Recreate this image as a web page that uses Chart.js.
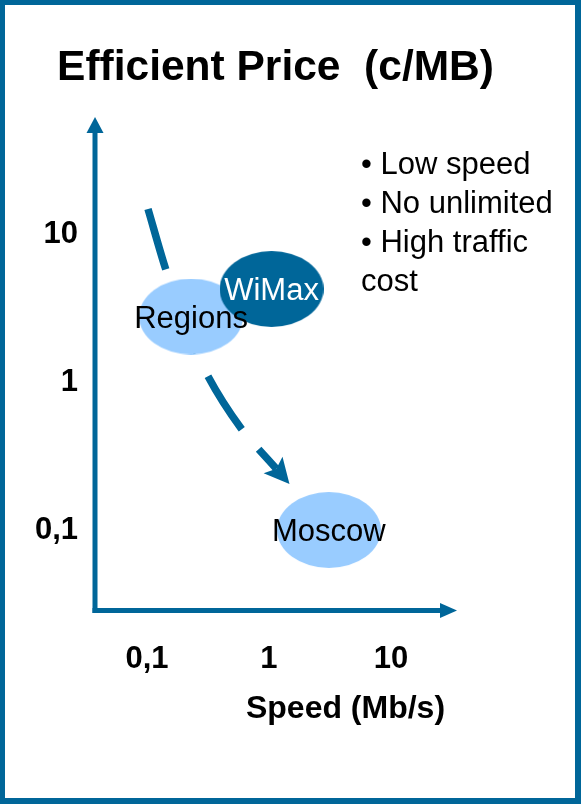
<!DOCTYPE html>
<html>
<head>
<meta charset="utf-8">
<title>Efficient Price (c/MB)</title>
<script src="https://cdn.jsdelivr.net/npm/chart.js@4/dist/chart.umd.min.js"></script>
<style>
  html, body { margin: 0; padding: 0; background: #ffffff; }
  #chart { position: absolute; left: 0; top: 0; }
  #frame {
    position: absolute; left: 0; top: 0;
    width: 581px; height: 804px; box-sizing: border-box;
    border-style: solid; border-color: #006699;
    border-width: 5px 6px 6px 5px;
    pointer-events: none;
  }
</style>
</head>
<body>
<canvas id="chart" width="581" height="804"></canvas>
<div id="frame"></div>
<script>
// Market segments: connection speed (Mb/s) vs. efficient price (cents per MB)
const categories = ['Regions', 'WiMax', 'Moscow'];
const speedMbps  = [0.23, 1.05, 3.1];
const priceCents = [2.8, 4.3, 0.1];

// Dashed trend arrow from high price / low speed towards Moscow
const trendSpeed = [0.102, 0.143, 0.205, 0.315, 0.59, 1.15];
const trendPrice = [15.0, 5.8, 2.53, 1.11, 0.49, 0.26];

// Axis ticks and ranges
const xTickValues = [0.1, 1, 10];
const xTickLabels = ['0,1', '1', '10'];
const yTickValues = [0.1, 1, 10];
const yTickLabels = ['0,1', '1', '10'];
const xRange = [0.0375, 34.8];
const yRange = [0.0285, 63];

// Texts
const titleText = 'Efficient Price  (c/MB)';
const xTitleText = 'Speed (Mb/s)';
const noteLines = ['\u2022 Low speed', '\u2022 No unlimited', '\u2022 High traffic', 'cost'];

// Styles
const FONT = "'Liberation Sans', Arial, Helvetica, sans-serif";
const DARK_BLUE = '#006699';
const LIGHT_BLUE = '#99ccff';
const segmentFill = [LIGHT_BLUE, DARK_BLUE, LIGHT_BLUE];
const segmentText = ['#000000', '#ffffff', '#000000'];
const ELLIPSE_W = 104, ELLIPSE_H = 76;

function ellipseImage(color) {
  const c = document.createElement('canvas');
  c.width = ELLIPSE_W; c.height = ELLIPSE_H;
  const g = c.getContext('2d');
  g.fillStyle = color;
  g.beginPath();
  g.ellipse(ELLIPSE_W / 2, ELLIPSE_H / 2, ELLIPSE_W / 2, ELLIPSE_H / 2, 0, 0, Math.PI * 2);
  g.fill();
  return c;
}

function arrowHead(ctx, tipX, tipY, ux, uy, len, half, notch, color) {
  const px = -uy, py = ux;
  const bx = tipX - ux * len, by = tipY - uy * len;
  ctx.save();
  ctx.fillStyle = color;
  ctx.beginPath();
  ctx.moveTo(tipX, tipY);
  ctx.lineTo(bx + px * half, by + py * half);
  ctx.lineTo(bx + ux * notch, by + uy * notch);
  ctx.lineTo(bx - px * half, by - py * half);
  ctx.closePath();
  ctx.fill();
  ctx.restore();
}

const decor = {
  id: 'decor',
  beforeDatasetsDraw(chart) {
    const { ctx, chartArea: a } = chart;
    ctx.save();
    ctx.strokeStyle = DARK_BLUE;
    ctx.lineWidth = 5;
    ctx.lineCap = 'butt';
    // vertical axis with arrow
    ctx.beginPath();
    ctx.moveTo(a.left, a.bottom + 2.5);
    ctx.lineTo(a.left, a.top + 14);
    ctx.stroke();
    arrowHead(ctx, a.left, a.top, 0, -1, 16, 8.5, 0, DARK_BLUE);
    // horizontal axis with arrow
    ctx.beginPath();
    ctx.moveTo(a.left - 2.5, a.bottom);
    ctx.lineTo(a.right - 14, a.bottom);
    ctx.stroke();
    arrowHead(ctx, a.right, a.bottom, 1, 0, 17, 7.5, 0, DARK_BLUE);
    ctx.restore();
  },
  afterDatasetDraw(chart, args) {
    if (args.index !== 0) return;
    const pts = chart.getDatasetMeta(0).data;
    const p = pts[pts.length - 1];
    const q = pts[pts.length - 2];
    let dx = p.x - (p.cp1x !== undefined ? p.cp1x : q.x);
    let dy = p.y - (p.cp1y !== undefined ? p.cp1y : q.y);
    if (Math.hypot(dx, dy) < 1) { dx = p.x - q.x; dy = p.y - q.y; }
    const d = Math.hypot(dx, dy);
    const ux = dx / d, uy = dy / d;
    arrowHead(chart.ctx, p.x + ux * 20, p.y + uy * 20, ux, uy, 25, 12.5, 5, DARK_BLUE);
  },
  afterDatasetsDraw(chart) {
    const { ctx } = chart;
    ctx.save();
    // segment names inside the ellipses
    const pts = chart.getDatasetMeta(1).data;
    ctx.font = `31px ${FONT}`;
    ctx.textAlign = 'center';
    ctx.textBaseline = 'alphabetic';
    categories.forEach((name, i) => {
      ctx.fillStyle = segmentText[i];
      ctx.fillText(name, pts[i].x, pts[i].y + 11);
    });
    // chart title
    ctx.fillStyle = '#000000';
    ctx.font = `bold 42.5px ${FONT}`;
    ctx.fillText(titleText, 275.5, 80);
    // horizontal axis title
    ctx.font = `bold 32px ${FONT}`;
    ctx.fillText(xTitleText, 345.5, 718);
    // notes
    ctx.font = `31px ${FONT}`;
    ctx.textAlign = 'left';
    noteLines.forEach((line, i) => ctx.fillText(line, 361, 174 + i * 39));
    ctx.restore();
  }
};

const tickFont = { family: FONT, size: 31, weight: 'bold' };

new Chart(document.getElementById('chart'), {
  type: 'scatter',
  data: {
    datasets: [
      {
        type: 'line',
        label: 'trend',
        data: trendSpeed.map((x, i) => ({ x, y: trendPrice[i] })),
        borderColor: DARK_BLUE,
        borderWidth: 7.5,
        borderDash: [63, 26],
        borderCapStyle: 'butt',
        tension: 0.3,
        pointRadius: 0,
        fill: false,
        order: 2
      },
      {
        label: 'segments',
        data: categories.map((c, i) => ({ x: speedMbps[i], y: priceCents[i] })),
        pointStyle: segmentFill.map(ellipseImage),
        pointRadius: 40,
        order: 1
      }
    ]
  },
  options: {
    responsive: false,
    animation: false,
    devicePixelRatio: 1,
    events: [],
    layout: { padding: { left: 0, top: 117, right: 124, bottom: 0 } },
    plugins: {
      legend: { display: false },
      title: { display: false },
      tooltip: { enabled: false }
    },
    scales: {
      x: {
        type: 'logarithmic',
        min: xRange[0],
        max: xRange[1],
        bounds: 'data',
        grid: { display: false, drawTicks: false },
        border: { display: false },
        afterBuildTicks: s => { s.ticks = xTickValues.map(v => ({ value: v })); },
        afterFit: s => { s.height = 193.5; },
        ticks: {
          autoSkip: false, maxRotation: 0, minRotation: 0,
          padding: 30, color: '#000000', font: tickFont,
          callback: v => xTickLabels[xTickValues.indexOf(v)]
        }
      },
      y: {
        type: 'logarithmic',
        min: yRange[0],
        max: yRange[1],
        bounds: 'data',
        grid: { display: false, drawTicks: false },
        border: { display: false },
        afterBuildTicks: s => { s.ticks = yTickValues.map(v => ({ value: v })); },
        afterFit: s => { s.width = 95; },
        ticks: {
          autoSkip: false,
          padding: 17, color: '#000000', font: tickFont,
          callback: v => yTickLabels[yTickValues.indexOf(v)]
        }
      }
    }
  },
  plugins: [decor]
});
</script>
</body>
</html>
